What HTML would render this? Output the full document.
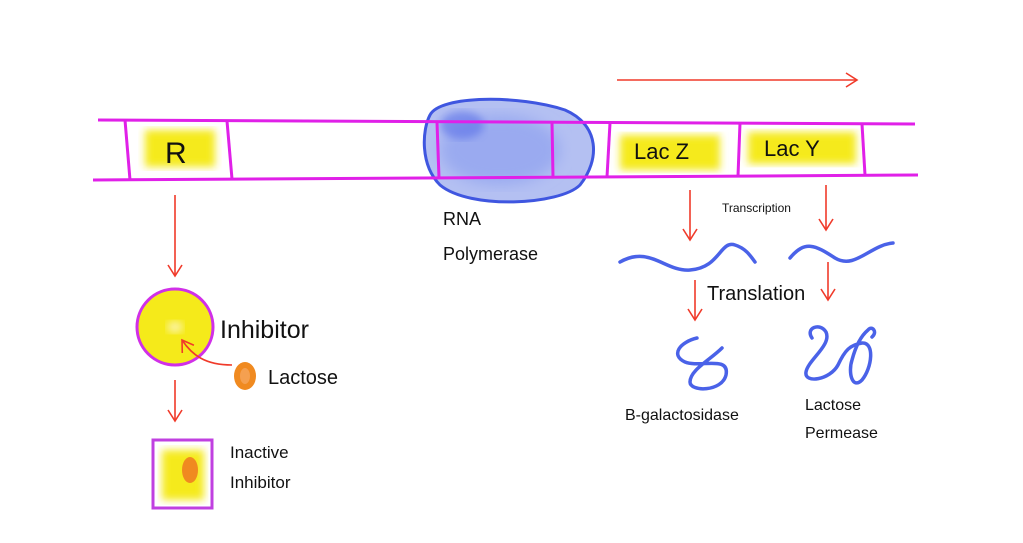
<!DOCTYPE html>
<html><head><style>
body{margin:0;background:#fff}
svg{display:block}
text{font-family:"Liberation Sans",sans-serif;fill:#111}
</style></head><body>
<svg width="1023" height="543" viewBox="0 0 1023 543" xmlns="http://www.w3.org/2000/svg">
<defs>
<filter id="blur"><feGaussianBlur stdDeviation="4"/></filter>
<filter id="blur2"><feGaussianBlur stdDeviation="7"/></filter>
<marker id="ah" markerWidth="16" markerHeight="16" refX="13" refY="8" orient="auto" markerUnits="userSpaceOnUse"><path d="M2,1 L13,8 L2,15" fill="none" stroke="#f03a2a" stroke-width="1.6"/></marker>
</defs>
<rect x="145" y="130" width="70" height="37" fill="#f5ea1a" filter="url(#blur)"/>
<rect x="620" y="135" width="100" height="35" fill="#f5ea1a" filter="url(#blur)"/>
<rect x="748" y="132" width="108" height="32" fill="#f5ea1a" filter="url(#blur)"/>
<path d="M430,115 C440,95 520,95 565,110 C600,125 600,160 580,185 C560,205 470,210 440,185 C420,165 422,130 430,115Z" fill="#b4c0f2"/>
<ellipse cx="500" cy="150" rx="60" ry="35" fill="#9aaaf0" filter="url(#blur2)"/>
<ellipse cx="462" cy="125" rx="22" ry="14" fill="#5a70e8" opacity="0.6" filter="url(#blur)"/>
<path d="M430,115 C440,95 520,95 565,110 C600,125 600,160 580,185 C560,205 470,210 440,185 C420,165 422,130 430,115Z" fill="none" stroke="#3f56e0" stroke-width="3"/>
<g stroke="#e020e8" stroke-width="3" fill="none">
<path d="M98,120 L915,124"/>
<path d="M93,180 L918,175"/>
<path d="M125,120 L130,180"/><path d="M227,121 L232,179"/>
<path d="M437,122 L439,178"/><path d="M552,122 L553,177"/>
<path d="M610,123 L607,177"/><path d="M740,123 L738,176"/><path d="M862,124 L865,175"/>
</g>
<text x="165" y="163" font-size="30">R</text>
<text x="634" y="159" font-size="22">Lac Z</text>
<text x="764" y="156" font-size="22">Lac Y</text>
<text x="443" y="225" font-size="18">RNA</text>
<text x="443" y="260" font-size="18">Polymerase</text>
<circle cx="175" cy="327" r="38" fill="#f5ea1a" stroke="#d030e8" stroke-width="3"/>
<ellipse cx="175" cy="327" rx="8" ry="6" fill="#fbf3a0" filter="url(#blur)"/>
<g stroke="#f03a2a" stroke-width="1.6" fill="none" marker-end="url(#ah)">
<path d="M617,80 L857,80"/>
<path d="M175,195 L175,276"/>
<path d="M175,380 L175,421"/>
<path d="M690,190 L690,240"/>
<path d="M826,185 L826,230"/>
<path d="M695,280 L695,320"/>
<path d="M828,262 L828,300"/>
<path d="M232,365 C205,365 192,355 182,340"/>
</g>
<text x="220" y="338" font-size="25">Inhibitor</text>
<ellipse cx="245" cy="376" rx="11" ry="14" fill="#f08a20"/>
<ellipse cx="245" cy="376" rx="5" ry="8" fill="#f5a050"/>
<text x="268" y="384" font-size="20">Lactose</text>
<rect x="153" y="440" width="59" height="68" fill="#fff" stroke="#c040e0" stroke-width="3"/>
<rect x="162" y="450" width="42" height="50" fill="#f5ea1a" filter="url(#blur)"/>
<ellipse cx="190" cy="470" rx="8" ry="13" fill="#f08a20"/>
<text x="230" y="458" font-size="17">Inactive</text>
<text x="230" y="488" font-size="17">Inhibitor</text>
<text x="722" y="212" font-size="12">Transcription</text>
<g stroke="#4a62e8" stroke-width="3.5" fill="none" stroke-linecap="round" stroke-linejoin="round">
<path d="M620,262 C650,245 665,272 690,270 C720,268 720,240 735,245 C745,248 750,255 755,262"/>
<path d="M790,258 C805,240 815,245 835,258 C855,270 870,245 893,243"/>
<path d="M697,338 C680,342 670,355 685,362 C700,368 730,355 726,375 C722,392 690,392 690,382 C690,370 710,360 722,348"/>
<path d="M812,338 C805,328 820,322 826,332 C832,345 808,360 806,372 C804,384 830,380 838,365 C845,350 850,345 862,343 C875,342 872,368 862,380 C852,390 848,372 852,360 C856,345 862,335 868,330 C872,325 878,332 872,337"/>
</g>
<text x="707" y="300" font-size="20">Translation</text>
<text x="625" y="420" font-size="16">B-galactosidase</text>
<text x="805" y="410" font-size="16">Lactose</text>
<text x="805" y="438" font-size="16">Permease</text>
</svg>
</body></html>
